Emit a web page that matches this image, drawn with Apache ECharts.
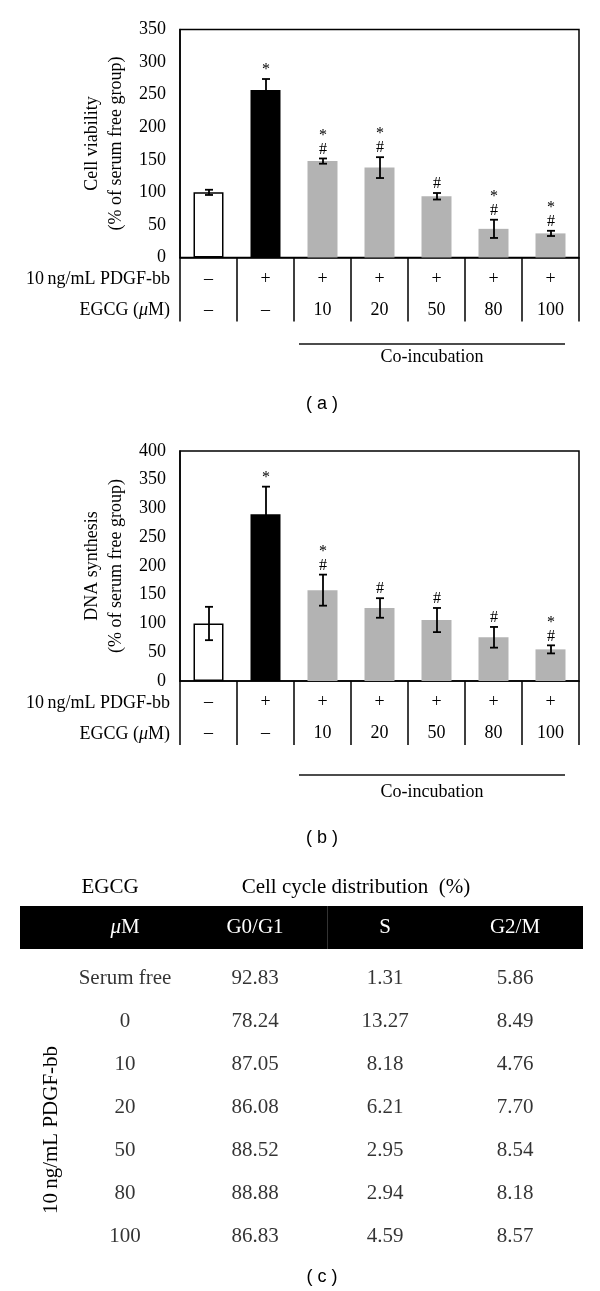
<!DOCTYPE html>
<html><head><meta charset="utf-8">
<script src="https://cdn.jsdelivr.net/npm/echarts@6/dist/echarts.min.js"></script>
<style>html,body{margin:0;padding:0;background:#fff}#c{width:600px;height:1291px}</style>
</head><body><div id="c"></div>
<script>
// ---------- data ----------
const groups = ['Serum free', 'PDGF-bb', 'PDGF-bb + EGCG 10', 'PDGF-bb + EGCG 20', 'PDGF-bb + EGCG 50', 'PDGF-bb + EGCG 80', 'PDGF-bb + EGCG 100'];
const pdgfRow = ['–', '+', '+', '+', '+', '+', '+'];
const egcgRow = ['–', '–', '10', '20', '50', '80', '100'];

const viability = [100, 257, 148, 138, 94, 44, 37];
const viabilityErr = [4, 17, 4, 16, 5, 14, 4];
const viabilitySig = ['', '*', '*\n#', '*\n#', '#', '*\n#', '*\n#'];

const dna = [100, 290, 158, 127, 106, 76, 55];
const dnaErr = [29, 48, 27, 17, 21, 18, 7];
const dnaSig = ['', '*', '*\n#', '#', '#', '#', '*\n#'];

const viabilityTicks = { min: 0, max: 350, interval: 50 };
const dnaTicks = { min: 0, max: 400, interval: 50 };

const tableColumns = ['μM', 'G0/G1', 'S', 'G2/M'];
const tableRows = ['Serum free', '0', '10', '20', '50', '80', '100'];
const g0g1 = [92.83, 78.24, 87.05, 86.08, 88.52, 88.88, 86.83];
const sPhase = [1.31, 13.27, 8.18, 6.21, 2.95, 2.94, 4.59];
const g2m = [5.86, 8.49, 4.76, 7.70, 8.54, 8.18, 8.57];

// ---------- styles ----------
const SERIF = '"Liberation Serif", "DejaVu Serif", serif';
const SANS = '"Liberation Sans", "DejaVu Sans", sans-serif';
const barFills = ['#ffffff', '#000000', '#b3b3b3', '#b3b3b3', '#b3b3b3', '#b3b3b3', '#b3b3b3'];
const INK = '#000';
const FS = 18;
const TFS = 21;

const chart = echarts.init(document.getElementById('c'), null, { renderer: 'canvas' });

function barData(vals) {
  return vals.map((v, i) => ({
    value: v,
    itemStyle: { color: barFills[i], borderColor: i === 0 ? '#000' : barFills[i], borderWidth: i === 0 ? 1.5 : 0 }
  }));
}

function errSeries(idx, vals, errs, sigs) {
  return {
    type: 'custom', xAxisIndex: idx, yAxisIndex: idx, z: 10, silent: true,
    data: vals.map((v, i) => [i, v, errs[i]]),
    renderItem: function (params, api) {
      const i = api.value(0), v = api.value(1), e = api.value(2);
      const top = api.coord([i, v + e]);
      const bot = api.coord([i, v - e]);
      const x = Math.round(top[0]);
      const hw = 4;
      const st = { stroke: '#000', lineWidth: 1.8 };
      const children = [
        { type: 'line', shape: { x1: x, y1: top[1], x2: x, y2: bot[1] }, style: st },
        { type: 'line', shape: { x1: x - hw, y1: top[1], x2: x + hw, y2: top[1] }, style: st },
        { type: 'line', shape: { x1: x - hw, y1: bot[1], x2: x + hw, y2: bot[1] }, style: st }
      ];
      if (sigs[i]) {
        children.push({
          type: 'text',
          style: {
            text: sigs[i], x: x, y: top[1] - 2, align: 'center', verticalAlign: 'bottom',
            font: '16px ' + SERIF, lineHeight: 14, fill: '#000'
          }
        });
      }
      return { type: 'group', children: children };
    }
  };
}

function catAxis(gridIndex) {
  return {
    gridIndex: gridIndex, type: 'category', data: groups,
    axisLine: { lineStyle: { color: '#000', width: 1.5 } },
    axisTick: { show: true, alignWithLabel: false, length: 64, lineStyle: { color: '#000', width: 1.5 } },
    axisLabel: {
      interval: 0, margin: 6, lineHeight: 31, fontSize: FS, fontFamily: SERIF, color: INK,
      formatter: (v, i) => pdgfRow[i] + '\n' + egcgRow[i]
    }
  };
}

function valAxis(gridIndex, ticks, name) {
  return {
    gridIndex: gridIndex, type: 'value', min: ticks.min, max: ticks.max, interval: ticks.interval,
    axisLine: { show: true, lineStyle: { color: '#000', width: 1.5 } },
    axisTick: { show: false },
    splitLine: { show: false },
    axisLabel: { fontSize: FS, fontFamily: SERIF, color: INK, margin: 14 },
    name: name, nameLocation: 'middle', nameRotate: 90, nameGap: 51,
    nameTextStyle: { fontSize: FS, fontFamily: SERIF, color: INK, lineHeight: 24 }
  };
}

const tableData = [];
tableRows.forEach((r, ri) => {
  tableData.push([0, ri, r]);
  tableData.push([1, ri, g0g1[ri].toFixed(2)]);
  tableData.push([2, ri, sPhase[ri].toFixed(2)]);
  tableData.push([3, ri, g2m[ri].toFixed(2)]);
});

function rowLabels(yPdgf, yEgcg) {
  return [
    { type: 'text', x: 170, y: yPdgf, style: { text: '10\u2009ng/mL PDGF-bb', align: 'right', verticalAlign: 'middle', font: FS + 'px ' + SERIF, fill: INK } },
    { type: 'text', x: 170, y: yEgcg, style: { text: 'EGCG ({i|μ}M)', align: 'right', verticalAlign: 'middle', font: FS + 'px ' + SERIF, fill: INK,
      rich: { i: { fontStyle: 'italic', fontSize: FS, fontFamily: SERIF, fill: INK } } } }
  ];
}

function coInc(yLine, yText) {
  return [
    { type: 'line', shape: { x1: 299, y1: yLine, x2: 565, y2: yLine }, style: { stroke: '#111', lineWidth: 1.3 } },
    { type: 'text', x: 432, y: yText, style: { text: 'Co-incubation', align: 'center', verticalAlign: 'middle', font: FS + 'px ' + SERIF, fill: INK } }
  ];
}

function panelLabel(letter, y) {
  return { type: 'text', x: 322, y: y, style: { text: '( ' + letter + ' )', align: 'center', verticalAlign: 'middle', font: '18px ' + SANS, fill: INK } };
}

const option = {
  animation: false,
  grid: [
    { left: 180, right: 21, top: 29.5, height: 228, show: true, borderColor: '#000', borderWidth: 1.5, backgroundColor: 'transparent' },
    { left: 180, right: 21, top: 451, height: 230, show: true, borderColor: '#000', borderWidth: 1.5, backgroundColor: 'transparent' },
    { left: 60, right: 20, top: 956.5, height: 301 }
  ],
  xAxis: [
    catAxis(0),
    catAxis(1),
    {
      gridIndex: 2, type: 'category', data: tableColumns, position: 'top',
      axisLine: { show: false }, axisTick: { show: false }, splitLine: { show: false },
      axisLabel: {
        interval: 0, color: '#fff', fontSize: TFS, fontFamily: SERIF, verticalAlign: 'middle', margin: 29.5,
        formatter: v => v === 'μM' ? '{i|μ}M' : v,
        rich: { i: { fontStyle: 'italic', color: '#fff', fontSize: TFS, fontFamily: SERIF } }
      }
    }
  ],
  yAxis: [
    valAxis(0, viabilityTicks, 'Cell viability\n(% of serum free group)'),
    valAxis(1, dnaTicks, 'DNA synthesis\n(% of serum free group)'),
    { gridIndex: 2, type: 'category', data: tableRows, inverse: true, show: false }
  ],
  series: [
    { type: 'bar', xAxisIndex: 0, yAxisIndex: 0, barWidth: 30, silent: true, data: barData(viability) },
    errSeries(0, viability, viabilityErr, viabilitySig),
    { type: 'bar', xAxisIndex: 1, yAxisIndex: 1, barWidth: 30, silent: true, data: barData(dna) },
    errSeries(1, dna, dnaErr, dnaSig),
    {
      type: 'scatter', xAxisIndex: 2, yAxisIndex: 2, symbolSize: 0, silent: true,
      data: tableData,
      label: { show: true, position: 'inside', formatter: p => p.value[2], fontSize: TFS, fontFamily: SERIF, color: INK }
    }
  ],
  graphic: [].concat(
    rowLabels(279, 310),
    coInc(344, 357),
    [panelLabel('a', 404)],
    rowLabels(703, 734),
    coInc(775, 792),
    [panelLabel('b', 838)],
    [
      { type: 'text', x: 110, y: 887, style: { text: 'EGCG', align: 'center', verticalAlign: 'middle', font: TFS + 'px ' + SERIF, fill: INK } },
      { type: 'text', x: 356, y: 887, style: { text: 'Cell cycle distribution  (%)', align: 'center', verticalAlign: 'middle', font: TFS + 'px ' + SERIF, fill: INK } },
      { type: 'rect', z: -1, shape: { x: 20, y: 906, width: 563, height: 43 }, style: { fill: '#000' } },
      { type: 'line', shape: { x1: 327.5, y1: 906, x2: 327.5, y2: 949 }, style: { stroke: '#333', lineWidth: 1 } },
      { type: 'text', x: 51, y: 1130, rotation: Math.PI / 2, style: { text: '10\u2009ng/mL PDGF-bb', align: 'center', verticalAlign: 'middle', font: TFS + 'px ' + SERIF, fill: INK } },
      panelLabel('c', 1277)
    ]
  )
};
chart.setOption(option);
</script>
</body></html>
